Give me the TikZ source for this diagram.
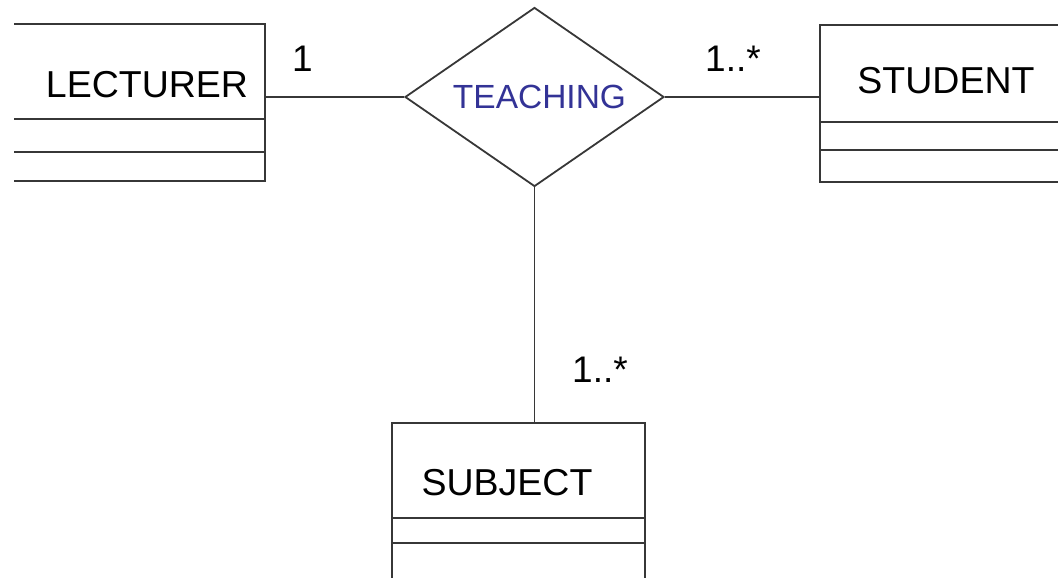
\documentclass[tikz,border=0pt]{standalone}
\usepackage{fontspec}
\setmainfont{Liberation Sans}
\usetikzlibrary{shapes.geometric}
\definecolor{edgegray}{RGB}{55,55,55}
\definecolor{relblue}{RGB}{51,51,150}
\tikzset{
  entity/.style={draw=edgegray, line width=2pt, rectangle, inner sep=0pt},
  compart/.style={draw=edgegray, line width=2pt},
  relation/.style={draw=edgegray, line width=1.8pt, diamond, inner sep=0pt, aspect=1.45},
  link/.style={draw=edgegray, line width=1.8pt},
  ename/.style={anchor=base, inner sep=0pt, font=\fontsize{37.5}{40}\selectfont},
  rname/.style={anchor=base, inner sep=0pt, text=relblue, font=\fontsize{33.5}{36}\selectfont},
  mult/.style={anchor=base, inner sep=0pt, font=\fontsize{37}{40}\selectfont},
}
\begin{document}
\begin{tikzpicture}[x=1pt,y=-1pt]
\useasboundingbox (0,0) rectangle (1058,578);
\clip (0,0) rectangle (1058,578);

% LECTURER class box (its left side runs past the frame)
\begin{scope}
  \clip (14,0) rectangle (400,300);
  \node[entity, minimum width=285pt, minimum height=157pt] (lect) at (122.5,102.5) {};
  \draw[compart] (lect.west |- 0,119) -- (lect.east |- 0,119);
  \draw[compart] (lect.west |- 0,152) -- (lect.east |- 0,152);
\end{scope}
\node[ename] (lectname) at (147,97) {LECTURER};

% STUDENT class box
\node[entity, minimum width=280pt, minimum height=157pt] (stud) at (960,103.5) {};
\draw[compart] (stud.west |- 0,122) -- (stud.east |- 0,122);
\draw[compart] (stud.west |- 0,150) -- (stud.east |- 0,150);
\node[ename] (studname) at (946,94) {STUDENT};

% SUBJECT class box
\node[entity, minimum width=253pt, minimum height=197pt] (subj) at (518.5,521.5) {};
\draw[compart] (subj.west |- 0,518) -- (subj.east |- 0,518);
\draw[compart] (subj.west |- 0,543) -- (subj.east |- 0,543);
\node[ename] (subjname) at (507,495) {SUBJECT};

% TEACHING relationship
\node[relation, minimum width=259pt, minimum height=179pt] (rel) at (534.5,97) {};
\node[rname] (relname) at (539.5,108) {TEACHING};

% connectors
\draw[link] (rel.west -| lect.east) -- (rel.west);
\draw[link] (rel.east) -- (rel.east -| stud.west);
\draw[link] (rel.south) -- (rel.south |- subj.north);

% multiplicities
\node[mult] (mlect) at (302.5,72) {1};
\node[mult] (mstud) at (733,72) {1..*};
\node[mult] (msubj) at (600,382) {1..*};
\end{tikzpicture}
\end{document}
